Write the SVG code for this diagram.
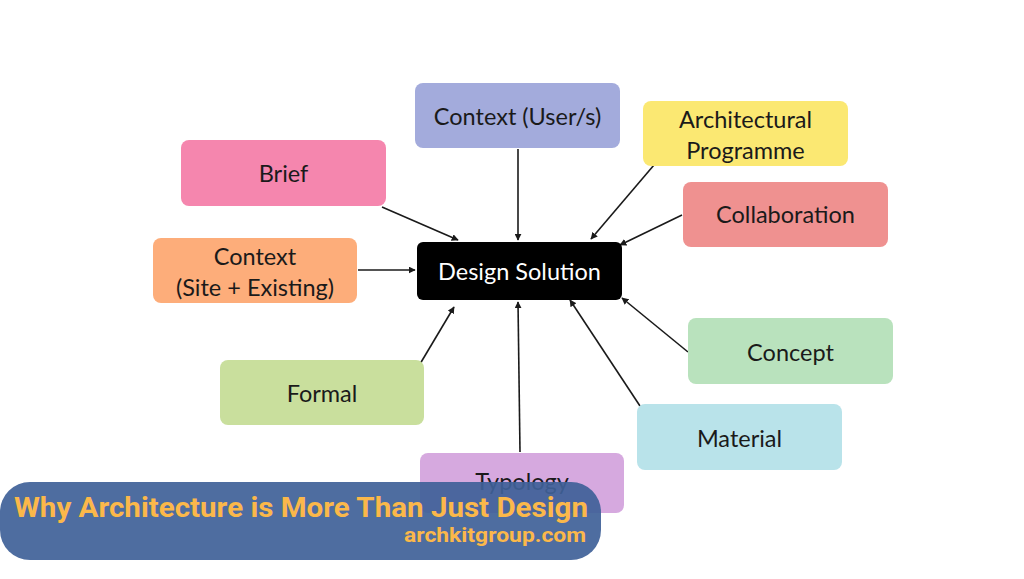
<svg xmlns="http://www.w3.org/2000/svg" width="1024" height="579" viewBox="0 0 1024 579">
<style>
.box{stroke:none}
.lbl{font-family:Lato,"Open Sans","Liberation Sans",sans-serif;font-size:23.5px;fill:#1a1a1a;text-anchor:middle;dominant-baseline:central}
.con{stroke:#1a1a1a;stroke-width:1.6;fill:none;marker-end:url(#ah)}
.ttl{font-family:Roboto,"Liberation Sans",sans-serif;font-weight:bold;fill:#fbb84a}
</style>
<defs>
<marker id="ah" viewBox="0 0 10 10" refX="9" refY="5" markerWidth="7" markerHeight="7" orient="auto" markerUnits="userSpaceOnUse">
<path d="M0,0 L10,5 L0,10 z" fill="#1a1a1a"/>
</marker>
</defs>
<rect width="1024" height="579" fill="#ffffff"/>
<g id="connectors">
<line class="con" x1="382" y1="207" x2="458" y2="240"/>
<line class="con" x1="518" y1="149" x2="518" y2="240"/>
<line class="con" x1="654" y1="165" x2="591" y2="239"/>
<line class="con" x1="682" y1="215" x2="620" y2="245"/>
<line class="con" x1="358" y1="270" x2="415" y2="270"/>
<line class="con" x1="420" y1="364" x2="454" y2="307"/>
<line class="con" x1="520" y1="452" x2="518" y2="302"/>
<line class="con" x1="640" y1="406" x2="570" y2="300"/>
<line class="con" x1="688" y1="352" x2="622" y2="298"/>
</g>
<g id="context-users"><rect class="box" x="415" y="83" width="205" height="65" rx="8" fill="#a3abdc"/><text class="lbl" x="517.5" y="116">Context (User/s)</text></g>
<g id="brief"><rect class="box" x="181" y="140" width="205" height="66" rx="8" fill="#f586ae"/><text class="lbl" x="283.5" y="173">Brief</text></g>
<g id="context-site"><rect class="box" x="153" y="238" width="204" height="65" rx="8" fill="#fdad7a"/><text class="lbl" x="255" y="256">Context</text><text class="lbl" x="255" y="287">(Site + Existing)</text></g>
<g id="design-solution"><rect class="box" x="417" y="242" width="205" height="58" rx="6" fill="#000000"/><text class="lbl" x="519.5" y="271" style="fill:#ffffff">Design Solution</text></g>
<g id="arch-programme"><rect class="box" x="643" y="101" width="205" height="65" rx="8" fill="#fbe872"/><text class="lbl" x="745.5" y="119">Architectural</text><text class="lbl" x="745.5" y="150">Programme</text></g>
<g id="collaboration"><rect class="box" x="683" y="182" width="205" height="65" rx="8" fill="#ef9190"/><text class="lbl" x="785.5" y="214">Collaboration</text></g>
<g id="concept"><rect class="box" x="688" y="318" width="205" height="66" rx="8" fill="#b9e2bd"/><text class="lbl" x="790.5" y="352">Concept</text></g>
<g id="material"><rect class="box" x="637" y="404" width="205" height="66" rx="8" fill="#b9e3ea"/><text class="lbl" x="739.5" y="438">Material</text></g>
<g id="formal"><rect class="box" x="220" y="360" width="204" height="65" rx="8" fill="#c9df9d"/><text class="lbl" x="322" y="393">Formal</text></g>
<g id="typology"><rect class="box" x="420" y="453" width="204" height="60" rx="8" fill="#d6a9df"/><text class="lbl" x="522" y="481">Typology</text></g>
<g id="banner">
<rect x="0" y="482" width="601" height="78" rx="30" fill="#3f6198" fill-opacity="0.92"/>
<text class="ttl" x="14" y="517" font-size="28" textLength="574" lengthAdjust="spacingAndGlyphs">Why Architecture is More Than Just Design</text>
<text class="ttl" x="586" y="542" font-size="21" text-anchor="end" textLength="182" lengthAdjust="spacingAndGlyphs">archkitgroup.com</text>
</g>
</svg>
